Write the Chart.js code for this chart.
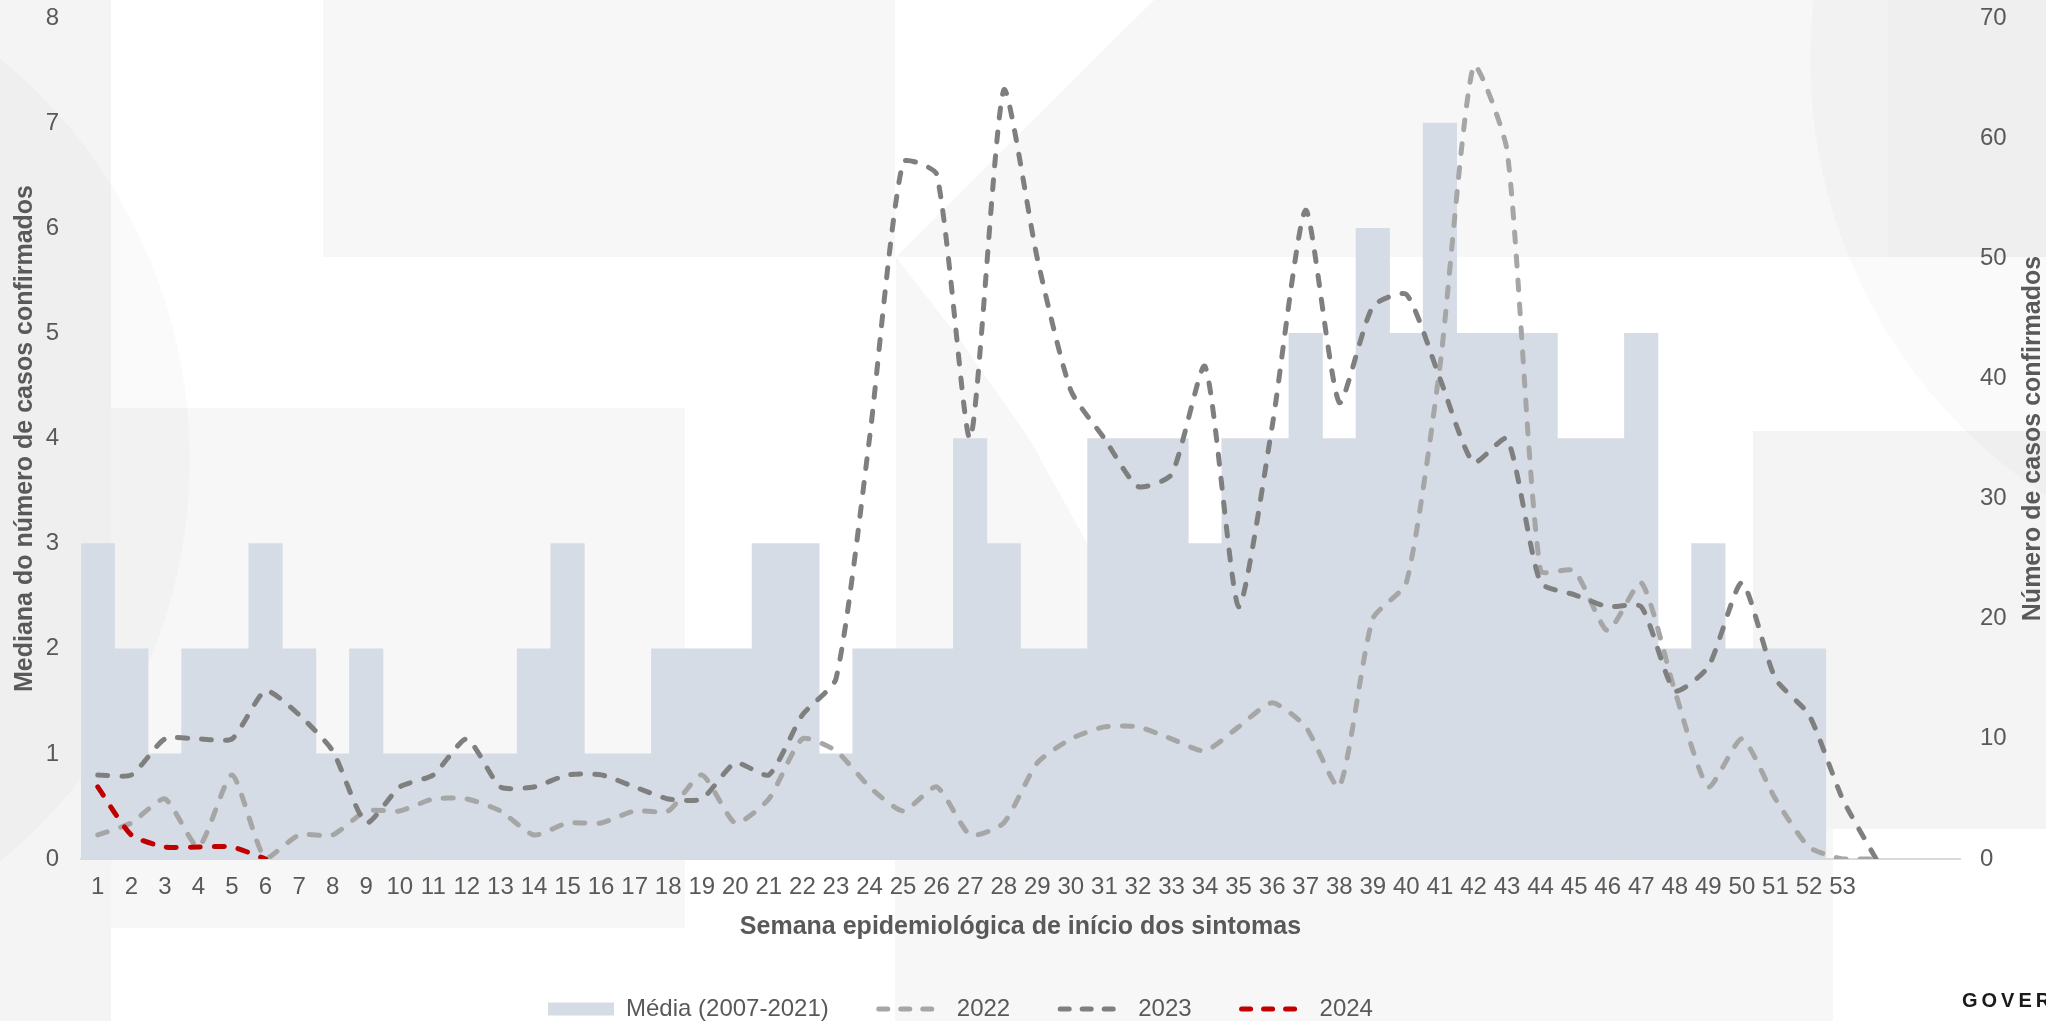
<!DOCTYPE html>
<html>
<head>
<meta charset="utf-8">
<script src="https://cdn.jsdelivr.net/npm/chart.js@4.4.1/dist/chart.umd.min.js"></script>
<style>
html,body{margin:0;padding:0;background:#ffffff;}
#wrap{position:relative;width:2046px;height:1021px;overflow:hidden;}
</style>
</head>
<body>
<div id="wrap"><canvas id="c" width="2046" height="1021"></canvas></div>
<script>
// ---- data ----
const weekLabels = ['1','2','3','4','5','6','7','8','9','10','11','12','13','14','15','16','17','18','19','20',
  '21','22','23','24','25','26','27','28','29','30','31','32','33','34','35','36','37','38','39','40',
  '41','42','43','44','45','46','47','48','49','50','51','52','53','','',''];
const media = [3,2,1,2,2,3,2,1,2,1,1,1,1,2,3,1,1,2,2,2,3,3,1,2,2,2,4,3,2,2,4,4,4,3,4,4,5,4,6,5,7,5,5,5,4,4,5,2,3,2,2,2,null];
const cases2022 = [2,3,5,1,7,0,2,2,4,4,5,5,4,2,3,3,4,4,7,3,5,10,9,6,4,6,2,3,8,10,11,11,10,9,11,13,11,6,20,23,41,66,59,24,24,19,23,14,6,10,5,1,0,0];
const cases2023 = [7,7,10,10,10,14,12,9,3,6,7,10,6,6,7,7,6,5,5,8,7,12,15,35,58,57,35,64,50,39,35,31,32,41,21,36,54,38,46,47,40,33,35,23,22,21,21,14,16,23,15,12,5,0];
const cases2024 = [6,2,1,1,1,0];
const seriesNames = ['Média (2007-2021)','2022','2023','2024'];
const leftTicks = {min:0, max:8, step:1};
const rightTicks = {min:0, max:70, step:10};
const titles = {
  x: 'Semana epidemiológica de início dos sintomas',
  y: 'Mediana do número de casos confirmados',
  y1: 'Número de casos confirmados'
};

// ---- styling ----
const FONT = '"Liberation Sans", Arial, sans-serif';
const TXT = '#595959';
const colBar = '#d6dce5', col22 = '#a6a6a6', col23 = '#7f7f7f', col24 = '#c00000';
const DASH = [10, 14];

const decor = {
  id: 'decor',
  beforeDraw(chart) {
    const c = chart.ctx;
    c.save();
    c.fillStyle = '#ffffff';
    c.fillRect(0, 0, chart.width, chart.height);
    c.fillStyle = '#f7f7f7';
    c.fillRect(323, 0, 1723, 257);          // top band
    c.fillRect(111, 408, 574, 520);         // lower-left block
    c.fillRect(895, 829, 938, 192);         // bottom middle block
    c.beginPath();                          // curved block under the band
    c.moveTo(896, 257); c.lineTo(960, 340); c.lineTo(1030, 440); c.lineTo(1088, 545);
    c.lineTo(1180, 690); c.lineTo(1272, 835); c.lineTo(896, 835); c.closePath(); c.fill();
    c.fillStyle = '#ffffff';                // white diagonal cut in top band
    c.beginPath(); c.moveTo(895, 0); c.lineTo(1154, 0); c.lineTo(895, 258); c.closePath(); c.fill();
    c.fillStyle = '#f4f4f4';
    c.fillRect(0, 0, 111, 1021);            // left strip
    c.fillRect(1888, 0, 158, 257);          // top right
    c.fillRect(1753, 431, 293, 398);        // right block
    c.fillStyle = 'rgba(0,0,0,0.018)';
    c.beginPath(); c.arc(-330, 460, 520, 0, Math.PI * 2); c.fill();
    c.beginPath(); c.arc(2330, 60, 520, 0, Math.PI * 2); c.fill();
    c.restore();
  },
  afterDraw(chart) {
    const c = chart.ctx;
    const s = chart.scales.y1, ca = chart.chartArea;
    c.save();
    c.translate(s.right - 13, (ca.top + ca.bottom) / 2);
    c.rotate(-Math.PI / 2);
    c.textAlign = 'center'; c.textBaseline = 'middle';
    c.font = 'bold 25px ' + FONT;
    c.fillStyle = TXT;
    c.fillText(titles.y1, 0, 0);
    c.restore();
    c.save();
    c.font = 'bold 20px ' + FONT;
    c.letterSpacing = '4px';
    c.fillStyle = '#1a1a1a';
    c.textBaseline = 'middle';
    c.fillText('GOVER', 1962, 1001);
    c.restore();
  },
  afterLayout(chart) {
    const lg = chart.legend;
    if (!lg || !lg.lineWidths) return;
    const p = lg.options.labels.padding;
    const start = (lg.left + p + lg.right - lg.lineWidths[0]) / 2;
    const d = 548 - start;
    lg.left += d; lg.right += d;
  }
};

function fixVertical(width) {
  return function (s) { s.width = width; s.paddingTop = 18; s.paddingBottom = 0; };
}

const ctx = document.getElementById('c').getContext('2d');
new Chart(ctx, {
  type: 'bar',
  data: {
    labels: weekLabels,
    datasets: [
      { type: 'bar', label: seriesNames[0], data: media, yAxisID: 'y', backgroundColor: colBar,
        barPercentage: 1, categoryPercentage: 1, borderWidth: 0, order: 10 },
      { type: 'line', label: seriesNames[1], data: cases2022, yAxisID: 'y1', borderColor: col22,
        borderWidth: 5, borderDash: DASH, borderCapStyle: 'round', borderJoinStyle: 'round',
        pointRadius: 0, tension: 0.2, fill: false, order: 3 },
      { type: 'line', label: seriesNames[2], data: cases2023, yAxisID: 'y1', borderColor: col23,
        borderWidth: 5, borderDash: DASH, borderCapStyle: 'round', borderJoinStyle: 'round',
        pointRadius: 0, tension: 0.2, fill: false, order: 2 },
      { type: 'line', label: seriesNames[3], data: cases2024, yAxisID: 'y1', borderColor: col24,
        borderWidth: 5, borderDash: DASH, borderCapStyle: 'round', borderJoinStyle: 'round',
        pointRadius: 0, tension: 0.2, fill: false, order: 1 }
    ]
  },
  options: {
    responsive: false,
    animation: false,
    devicePixelRatio: 1,
    layout: { padding: { top: 0, left: 0, right: 0, bottom: -10 } },
    scales: {
      x: {
        offset: true,
        grid: { display: false, drawTicks: false },
        border: { display: true, color: '#d9d9d9', width: 2 },
        ticks: { color: TXT, font: { family: FONT, size: 24 }, autoSkip: false, maxRotation: 0, minRotation: 0, padding: 14 },
        title: { display: true, text: titles.x, color: TXT, font: { family: FONT, size: 25, weight: 'bold' }, padding: { top: 0, bottom: 5 } },
        afterFit(s) { s.height = 88; }
      },
      y: {
        position: 'left', min: leftTicks.min, max: leftTicks.max,
        grid: { display: false, drawTicks: false }, border: { display: false },
        ticks: { stepSize: leftTicks.step, color: TXT, font: { family: FONT, size: 24 }, padding: 22 },
        title: { display: true, text: titles.y, color: TXT, font: { family: FONT, size: 25, weight: 'bold' }, padding: { top: 10, bottom: 0 } },
        afterFit: fixVertical(81)
      },
      y1: {
        position: 'right', min: rightTicks.min, max: rightTicks.max,
        grid: { display: false, drawTicks: false }, border: { display: false },
        ticks: { stepSize: rightTicks.step, color: TXT, font: { family: FONT, size: 24 }, padding: 20 },
        afterFit: fixVertical(86)
      }
    },
    plugins: {
      tooltip: { enabled: false },
      legend: {
        position: 'bottom',
        labels: {
          color: TXT,
          font: { family: FONT, size: 24 },
          usePointStyle: true,
          pointStyleWidth: 66,
          boxHeight: 13,
          padding: 50,
          generateLabels(chart) {
            return chart.data.datasets.map((ds, i) => {
              const isBar = ds.type === 'bar';
              return {
                text: ds.label,
                datasetIndex: i,
                fillStyle: isBar ? ds.backgroundColor : 'rgba(0,0,0,0)',
                strokeStyle: isBar ? ds.backgroundColor : ds.borderColor,
                lineWidth: isBar ? 0 : 5,
                lineDash: isBar ? [] : [9, 13],
                lineCap: 'round',
                pointStyle: isBar ? 'rect' : 'line',
                fontColor: TXT,
                hidden: false
              };
            });
          }
        }
      }
    }
  },
  plugins: [decor]
});
</script>
</body>
</html>
